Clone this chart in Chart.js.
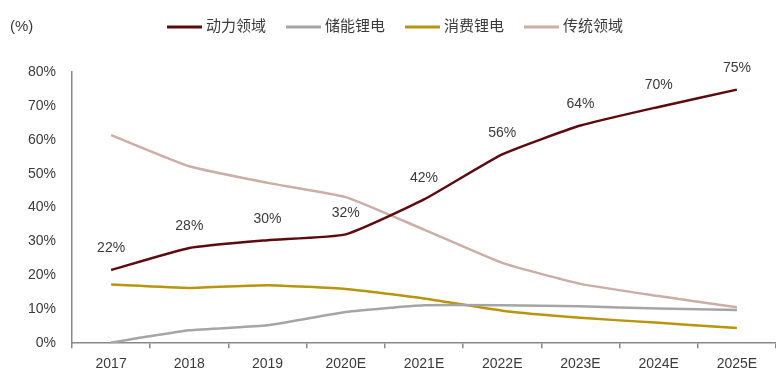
<!DOCTYPE html>
<html>
<head>
<meta charset="utf-8">
<script src="https://cdn.jsdelivr.net/npm/chart.js@4"></script>
<style>
  html, body { margin: 0; padding: 0; background: #fff; overflow: hidden; }
  #wrap { position: relative; width: 776px; height: 390px; }
</style>
</head>
<body>
<div id="wrap"><canvas id="chart" width="776" height="390"></canvas></div>
<script>
// categories
var years = ['2017', '2018', '2019', '2020E', '2021E', '2022E', '2023E', '2024E', '2025E'];
// series values (%)
var power = [21.6, 28.1, 30.4, 32.1, 42.4, 55.7, 64.2, 69.7, 74.8];
var storage = [0.2, 3.8, 5.3, 9.2, 11.2, 11.2, 10.9, 10.2, 9.8];
var consumer = [17.3, 16.3, 17.1, 16.0, 13.2, 9.6, 7.5, 6.0, 4.5];
var traditional = [61.4, 52.2, 47.3, 43.1, 33.5, 23.7, 17.5, 13.9, 10.6];
// y tick labels
var yTicks = [0, 10, 20, 30, 40, 50, 60, 70, 80];

var FONT = "'Liberation Sans', 'Noto Sans CJK SC', sans-serif";
var TEXT_COL = '#3a3a3a';

function series(label, data, color) {
    return {
        label: label,
        data: data,
        borderColor: color,
        backgroundColor: color,
        borderWidth: 2.5,
        pointRadius: 0,
        tension: 0.15,
        fill: false
    };
}

// value labels above the 动力领域 line
var valueLabels = {
    id: 'valueLabels',
    afterDatasetsDraw: function(chart) {
        var ctx = chart.ctx;
        var meta = chart.getDatasetMeta(0);
        ctx.save();
        ctx.font = '14px ' + FONT;
        ctx.fillStyle = TEXT_COL;
        ctx.textAlign = 'center';
        ctx.textBaseline = 'middle';
        meta.data.forEach(function(pt, i) {
            ctx.fillText(Math.round(power[i]) + '%', pt.x, pt.y - 21.5);
        });
        ctx.restore();
    }
};

// legend line + "(%)" unit at the top
var topLegend = {
    id: 'topLegend',
    afterDraw: function(chart) {
        var ctx = chart.ctx;
        var y = 27;
        ctx.save();
        ctx.font = '15px ' + FONT;
        ctx.textBaseline = 'middle';
        ctx.fillStyle = TEXT_COL;
        ctx.textAlign = 'left';
        ctx.fillText('(%)', 10, y);

        var lineW = 35, gap = 4, space = 20;
        var items = chart.data.datasets.map(function(ds) {
            return { label: ds.label, color: ds.borderColor, w: lineW + gap + ctx.measureText(ds.label).width };
        });
        var total = items.reduce(function(s, it) { return s + it.w; }, 0) + space * (items.length - 1);
        var x = 395 - total / 2;
        items.forEach(function(it) {
            ctx.strokeStyle = it.color;
            ctx.lineWidth = 3;
            ctx.beginPath();
            ctx.moveTo(x, y);
            ctx.lineTo(x + lineW, y);
            ctx.stroke();
            ctx.fillStyle = TEXT_COL;
            ctx.fillText(it.label, x + lineW + gap, y);
            x += it.w + space;
        });
        ctx.restore();
    }
};

new Chart(document.getElementById('chart'), {
    type: 'line',
    data: {
        labels: years,
        datasets: [
            series('动力领域', power, '#5c0b0e'),
            series('储能锂电', storage, '#a5a5a5'),
            series('消费锂电', consumer, '#b8950c'),
            series('传统领域', traditional, '#cbaea6')
        ]
    },
    options: {
        responsive: false,
        animation: false,
        layout: { padding: { top: 72, left: 0, right: 0, bottom: 9 } },
        plugins: {
            legend: { display: false },
            tooltip: { enabled: false }
        },
        scales: {
            x: {
                offset: true,
                grid: { offset: true, drawOnChartArea: false, drawTicks: true, tickLength: 5, color: '#888888', lineWidth: 1.5 },
                border: { color: '#888888', width: 1.5 },
                ticks: { color: TEXT_COL, font: { family: FONT, size: 14 }, padding: 8, maxRotation: 0, autoSkip: false }
            },
            y: {
                min: 0,
                max: 80,
                afterFit: function(scale) { scale.width = 72; },
                afterBuildTicks: function(scale) {
                    scale.ticks = yTicks.map(function(v) { return { value: v }; });
                },
                grid: { display: false, drawTicks: false },
                border: { display: true, color: '#888888', width: 1.5 },
                ticks: {
                    color: TEXT_COL,
                    font: { family: FONT, size: 14 },
                    padding: 16,
                    callback: function(v) { return v + '%'; }
                }
            }
        }
    },
    plugins: [valueLabels, topLegend]
});
</script>
</body>
</html>
